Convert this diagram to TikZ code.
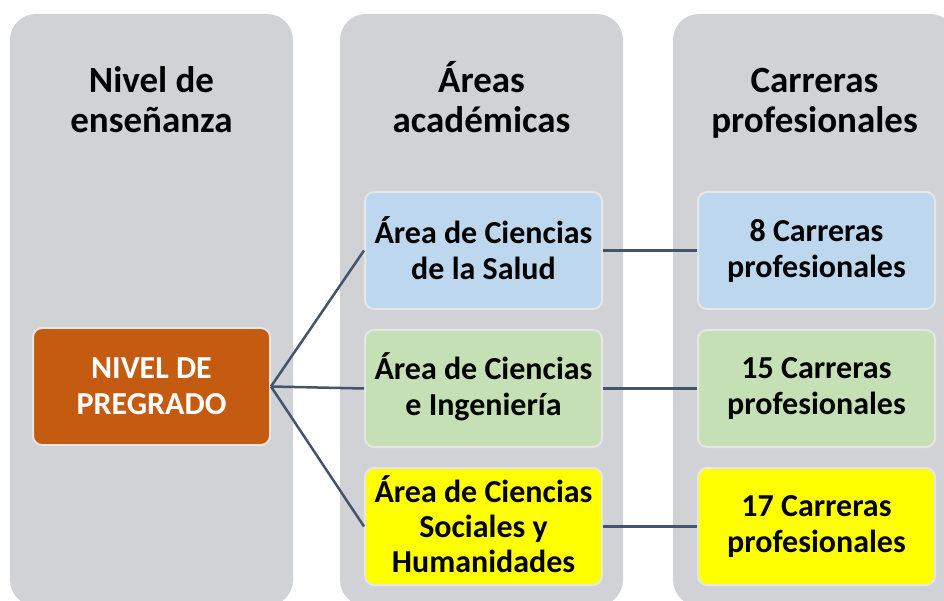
\documentclass[tikz,border=0pt]{standalone}
\usepackage{fontspec}
\setmainfont{Carlito}
\usetikzlibrary{positioning}

\definecolor{colgray}{HTML}{D1D2D6}
\definecolor{boxline}{HTML}{E6E6E6}
\definecolor{linkcol}{HTML}{44546A}
\definecolor{pregrado}{HTML}{C55A11}
\definecolor{salud}{HTML}{BDD7EE}
\definecolor{ingen}{HTML}{C5E0B4}
\definecolor{social}{HTML}{FFFF00}

\begin{document}
\begin{tikzpicture}[
        x=1pt, y=1pt,
        node distance=19pt and 94pt,
        colbox/.style={fill=colgray, rounded corners=26pt},
        header/.style={align=center, anchor=base, font=\fontsize{37}{40}\selectfont\bfseries},
        areabox/.style={draw=boxline, line width=2pt, rounded corners=9pt, inner sep=0pt,
            minimum width=237pt, minimum height=117pt, align=center,
            font=\fontsize{32}{36}\selectfont\bfseries},
        link/.style={draw=linkcol, line width=2.5pt}
    ]
    \useasboundingbox (0,0) rectangle (944,600);
    \clip (0,0) rectangle (944,600);

    % Columns
    \path[colbox] (10,-6) rectangle (293,586);
    \path[colbox] (340,-6) rectangle (623,586);
    \path[colbox] (673,-6) rectangle (956,586);

    % Headers
    \node (hnivel) [header] at (151.5,467) {Nivel de\\enseñanza};
    \node (hareas) [header] at (481.5,467) {Áreas\\académicas};
    \node (hcarreras) [header] at (814.5,467) {Carreras\\profesionales};

    % Nodes
    \node (nivel) [areabox, fill=pregrado, text=white] at (151.5,213.5) {NIVEL DE\\PREGRADO};
    \node (salud) [areabox, fill=salud] at (483.5,349.5) {\smash{Á}rea de Ciencias\\de la Salud};
    \node (ingenieria) [areabox, fill=ingen, below=of salud] {\smash{Á}rea de Ciencias\\e Ingeniería};
    \node (sociales) [areabox, fill=social, below=of ingenieria,
        font=\fontsize{32}{35}\selectfont\bfseries] {\smash{Á}rea de Ciencias\\Sociales y\\Humanidades};
    \node (c8) [areabox, fill=salud, right=of salud] {8 Carreras\\profesionales};
    \node (c15) [areabox, fill=ingen, right=of ingenieria] {15 Carreras\\profesionales};
    \node (c17) [areabox, fill=social, right=of sociales] {17 Carreras\\profesionales};

    % Connectors
    \draw[link] (nivel.east) -- (salud.west);
    \draw[link] (nivel.east) -- (ingenieria.west);
    \draw[link] (nivel.east) -- (sociales.west);
    \draw[link] (salud) -- (c8);
    \draw[link] (ingenieria) -- (c15);
    \draw[link] (sociales) -- (c17);

\end{tikzpicture}
\end{document}
